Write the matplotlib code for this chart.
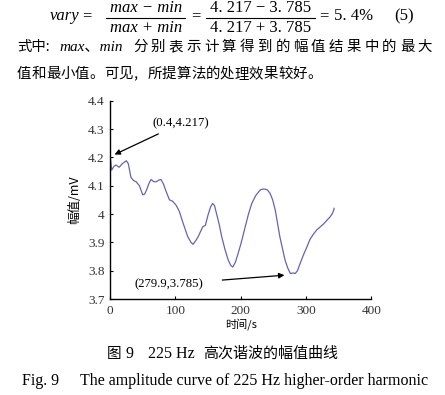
import matplotlib
matplotlib.use("Agg")
import matplotlib.pyplot as plt
from matplotlib.lines import Line2D

W, H = 445, 395

# curve
time_s = [0, 2.5, 6, 9, 14, 19, 25, 28, 32, 36, 40, 45, 50, 53, 56, 60, 63, 67, 71, 75, 78,
          82, 85, 91, 96, 101.5, 106, 112, 119, 124, 127, 131, 135, 142, 146, 150, 154, 157,
          160, 163, 167, 171, 176, 181, 185, 188, 192, 196, 201, 207, 212, 217, 223, 230,
          234, 237, 241, 245, 249, 253, 260, 268, 272, 276, 280, 283.5, 287, 291, 296, 301.5,
          306, 312, 317, 322, 327, 332, 337, 340, 342.5, 343]
amp_mv = [4.214, 4.155, 4.168, 4.173, 4.165, 4.178, 4.188, 4.178, 4.13, 4.118, 4.114, 4.10,
          4.068, 4.07, 4.085, 4.11, 4.122, 4.114, 4.114, 4.12, 4.122, 4.105, 4.085, 4.05,
          4.045, 4.03, 4.01, 3.967, 3.92, 3.9, 3.893, 3.905, 3.92, 3.955, 3.96, 3.996, 4.025,
          4.037, 4.03, 4.002, 3.965, 3.92, 3.875, 3.837, 3.818, 3.813, 3.83, 3.86, 3.9, 3.955,
          4.0, 4.037, 4.065, 4.085, 4.088, 4.088, 4.085, 4.073, 4.05, 4.014, 3.92, 3.837,
          3.81, 3.79, 3.792, 3.79, 3.8, 3.825, 3.855, 3.884, 3.91, 3.931, 3.945, 3.955, 3.965,
          3.978, 3.99, 4.0, 4.014, 4.02]

x_ticks = [0, 100, 200, 300, 400]
y_ticks = [3.7, 3.8, 3.9, 4.0, 4.1, 4.2, 4.3, 4.4]
y_labels = ["3.7", "3.8", "3.9", "4", "4.1", "4.2", "4.3", "4.4"]

serif = ["Liberation Serif", "DejaVu Serif"]
cjk = ["Noto Sans CJK SC", "DejaVu Sans"]


def fx(px):
    return px / W


def fy(py):
    return 1 - py / H


fig = plt.figure(figsize=(W / 100, H / 100), dpi=100)
fig.patch.set_facecolor("white")

ax = fig.add_axes([fx(110), fy(299), fx(371.3) - fx(110), fy(100.7) - fy(299)])
ax.plot(time_s, amp_mv, color="#6464b4", lw=0.9)
ax.set_xlim(0, 400)
ax.set_ylim(3.7, 4.4)
ax.set_xticks(x_ticks)
ax.set_yticks(y_ticks)
ax.set_yticklabels(y_labels)
for s in ["top", "right"]:
    ax.spines[s].set_visible(False)
for s in ["left", "bottom"]:
    ax.spines[s].set_linewidth(1.0)
ax.tick_params(direction="in", length=2.5, width=0.8, labelsize=9.5, pad=4)
for lab in ax.get_xticklabels() + ax.get_yticklabels():
    lab.set_family(serif)
    lab.set_color("#333333")
ax.set_ylabel("幅值/mV", family=cjk, fontsize=9, labelpad=5)
ax.set_xlabel("时间/s", family=cjk, fontsize=8, labelpad=1)

ax.annotate("(0.4,4.217)", xy=(7, 4.21), xytext=(65, 4.32),
            fontsize=9.2, family=serif, va="center", ha="left",
            arrowprops=dict(arrowstyle="-|>", color="black", lw=0.9,
                            shrinkA=3, shrinkB=0, mutation_scale=8))
ax.annotate("(279.9,3.785)", xy=(267, 3.784), xytext=(37, 3.752),
            fontsize=9.2, family=serif, va="center", ha="left",
            arrowprops=dict(arrowstyle="-|>", color="black", lw=0.9,
                            shrinkA=12, shrinkB=0, mutation_scale=8))

# equation above the chart
eq = dict(family=serif, fontsize=12, va="center")
fig.text(fx(50), fy(16), "vary", style="italic", ha="left", **eq)
fig.text(fx(87), fy(16), "=", ha="center", **eq)
fig.text(fx(146), fy(8), "max − min", style="italic", ha="center", **eq)
fig.text(fx(146), fy(28), "max + min", style="italic", ha="center", **eq)
fig.add_artist(Line2D([fx(106), fx(185)], [fy(17.5), fy(17.5)], color="black", lw=0.8))
fig.text(fx(196), fy(16), "=", ha="center", **eq)
fig.text(fx(261), fy(8), "4. 217 − 3. 785", ha="center", **eq)
fig.text(fx(261), fy(28), "4. 217 + 3. 785", ha="center", **eq)
fig.add_artist(Line2D([fx(206), fx(315)], [fy(17.5), fy(17.5)], color="black", lw=0.8))
fig.text(fx(324), fy(16), "=", ha="center", **eq)
fig.text(fx(334), fy(16), "5. 4%", ha="left", **eq)
fig.text(fx(394), fy(16), "(5)", ha="left", **eq)

# body text, second line is justified char by char
body = dict(family=cjk, fontsize=10.4, va="center")
fig.text(fx(17), fy(47), "式中:", ha="left", **body)
fig.text(fx(59), fy(47), "max、min", ha="left", style="italic",
         family=["Liberation Serif", "Noto Sans CJK SC"], fontsize=11, va="center")
rest = "分别表示计算得到的幅值结果中的最大"
for i, ch in enumerate(rest):
    fig.text(fx(133 + i * 17.8), fy(47), ch, ha="left", **body)
line3 = "值和最小值。可见,所提算法的处理效果较好。"
for i, ch in enumerate(line3):
    fig.text(fx(17 + i * 14.5), fy(74), ch, ha="left", **body)

# caption
fig.text(fx(107), fy(354), "图", ha="left", va="center", family=cjk, fontsize=10.5)
fig.text(fx(125), fy(354), "9", ha="left", va="center", family=serif, fontsize=11.5)
fig.text(fx(148), fy(354), "225 Hz", ha="left", va="center", family=serif, fontsize=11.5)
fig.text(fx(203), fy(354), "高次谐波的幅值曲线", ha="left", va="center", family=cjk, fontsize=10.8)
fig.text(fx(22), fy(381), "Fig. 9", ha="left", va="center", family=serif, fontsize=11.5)
fig.text(fx(80), fy(381), "The amplitude curve of 225 Hz higher-order harmonic",
         ha="left", va="center", family=serif, fontsize=11.5)

fig.savefig("out.png", dpi=100)
